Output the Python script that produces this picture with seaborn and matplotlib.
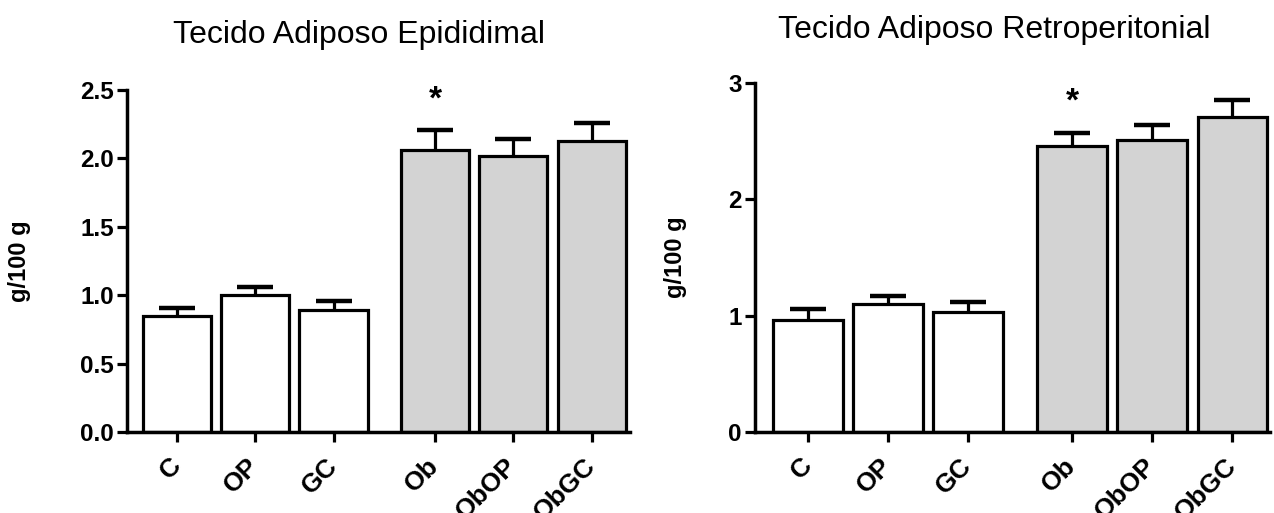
import numpy as np
import pandas as pd
import matplotlib
matplotlib.use('Agg')
import matplotlib.pyplot as plt
import seaborn as sns

# ---- data ----
groups = ['C', 'OP', 'GC', 'Ob', 'ObOP', 'ObGC']
diet = ['Controle', 'Controle', 'Controle', 'Obeso', 'Obeso', 'Obeso']
epi_mean = [0.85, 1.00, 0.89, 2.06, 2.02, 2.13]
epi_sem = [0.06, 0.06, 0.065, 0.145, 0.12, 0.13]
retro_mean = [0.96, 1.10, 1.03, 2.46, 2.51, 2.71]
retro_sem = [0.10, 0.07, 0.09, 0.11, 0.13, 0.14]
signif = ['', '', '', '*', '', '']
titles = ['Tecido Adiposo Epididimal', 'Tecido Adiposo Retroperitonial']
ylabel = 'g/100 g'
epi_yticks = [0.0, 0.5, 1.0, 1.5, 2.0, 2.5]
retro_yticks = [0, 1, 2, 3]

sns.set_theme(style='ticks', rc={
    'text.color': 'black', 'axes.labelcolor': 'black',
    'xtick.color': 'black', 'ytick.color': 'black',
    'axes.edgecolor': 'black',
})
plt.rcParams['font.family'] = ['Liberation Sans', 'DejaVu Sans']

W, H = 1274, 513
fig = plt.figure(figsize=(W / 100, H / 100), dpi=100)

# group gap between control and obese diets
pos = np.arange(len(groups)) + 0.3 * (np.array(diet) == 'Obeso')

panels = [
    dict(mean=epi_mean, sem=epi_sem, title=titles[0], yticks=epi_yticks, fmt='%.1f',
         rect=[127 / W, 81 / H, 503 / W, 342 / H], xlim=(-0.64, 5.79),
         title_xy=(359 / W, 1 - 43 / H), ylab_x=-0.190),
    dict(mean=retro_mean, sem=retro_sem, title=titles[1], yticks=retro_yticks, fmt='%d',
         rect=[755 / W, 81 / H, 515 / W, 349 / H], xlim=(-0.66, 5.77),
         title_xy=(994 / W, 1 - 38 / H), ylab_x=-0.132),
]

palette = {'Controle': 'white', 'Obeso': '#d3d3d3'}
LW = 2.3

for p in panels:
    ax = fig.add_axes(p['rect'])
    df = pd.DataFrame({'group': groups, 'diet': diet, 'pos': pos, 'mean': p['mean']})
    sns.barplot(data=df, x='pos', y='mean', hue='diet', palette=palette,
                native_scale=True, dodge=False, width=0.87, edgecolor='black',
                linewidth=LW, errorbar=None, legend=False, ax=ax)
    means = np.array(p['mean'])
    sems = np.array(p['sem'])
    eb = ax.errorbar(pos, means, yerr=[np.zeros_like(sems), sems], fmt='none',
                     ecolor='black', elinewidth=LW, capsize=13.3, capthick=3.2,
                     zorder=3)
    for cl in eb[1]:
        if np.allclose(cl.get_ydata(), means):
            cl.set_visible(False)
    for i, s in enumerate(signif):
        if s:
            ax.annotate(s, xy=(pos[i], means[i] + sems[i]), xytext=(0, 22),
                        textcoords='offset points', ha='center', va='center',
                        fontsize=24, fontweight='bold')
    ax.set_xlim(*p['xlim'])
    ax.set_ylim(0, p['yticks'][-1])
    ax.set_yticks(p['yticks'])
    ax.yaxis.set_major_formatter(matplotlib.ticker.FormatStrFormatter(p['fmt']))
    ax.set_xticks(pos)
    ax.set_xticklabels(groups, rotation=45, ha='right', va='center',
                       rotation_mode='anchor', fontsize=19, fontweight='bold')
    for lab in ax.get_yticklabels():
        lab.set_fontweight('bold')
        lab.set_fontsize(17.5)
    ax.tick_params(axis='x', length=7.5, width=LW, pad=14)
    ax.tick_params(axis='y', length=7.5, width=LW, pad=2)
    ax.set_xlabel('')
    ax.set_ylabel(ylabel, fontsize=17, fontweight='bold')
    ax.yaxis.set_label_coords(p['ylab_x'], 0.5)
    sns.despine(ax=ax)
    for sp in ['left', 'bottom']:
        ax.spines[sp].set_linewidth(2.5)
    ax.set_facecolor('white')
    fig.text(p['title_xy'][0], p['title_xy'][1], p['title'], ha='center',
             va='baseline', fontsize=23)

fig.savefig('out.png', dpi=100, facecolor='white')
